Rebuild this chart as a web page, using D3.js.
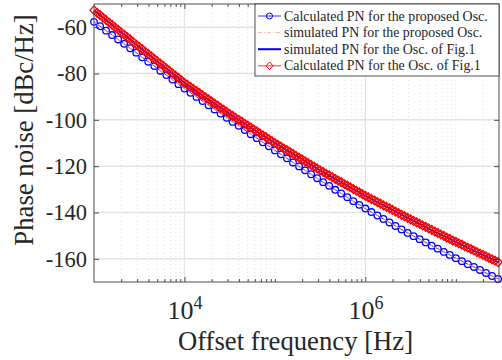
<!DOCTYPE html>
<html>
<head>
<meta charset="utf-8">
<script src="https://cdn.jsdelivr.net/npm/d3@7"></script>
<style>
  body { margin: 0; background: #fff; }
  svg { font-family: 'Liberation Serif', 'Times New Roman', serif; }
</style>
</head>
<body>
<div id="chart"></div>
<script>
// offset frequency given as log10(Hz), phase noise in dBc/Hz
const calcFig1Exp = [
  3, 3.033, 3.067, 3.1, 3.133, 3.167, 3.2, 3.233, 3.267, 3.3, 3.333, 3.367, 3.4, 3.433, 3.467,
  3.5, 3.533, 3.567, 3.6, 3.633, 3.667, 3.7, 3.733, 3.767, 3.8, 3.833, 3.867, 3.9, 3.933, 3.967,
  4, 4.033, 4.067, 4.1, 4.133, 4.167, 4.2, 4.233, 4.267, 4.3, 4.333, 4.367, 4.4, 4.433, 4.467,
  4.5, 4.533, 4.567, 4.6, 4.633, 4.667, 4.7, 4.733, 4.767, 4.8, 4.833, 4.867, 4.9, 4.933, 4.967,
  5, 5.033, 5.067, 5.1, 5.133, 5.167, 5.2, 5.233, 5.267, 5.3, 5.333, 5.367, 5.4, 5.433, 5.467,
  5.5, 5.533, 5.567, 5.6, 5.633, 5.667, 5.7, 5.733, 5.767, 5.8, 5.833, 5.867, 5.9, 5.933, 5.967,
  6, 6.033, 6.067, 6.1, 6.133, 6.167, 6.2, 6.233, 6.267, 6.3, 6.333, 6.367, 6.4, 6.433, 6.467,
  6.5, 6.533, 6.567, 6.6, 6.633, 6.667, 6.7, 6.733, 6.767, 6.8, 6.833, 6.867, 6.9, 6.933, 6.967,
  7, 7.033, 7.067, 7.1, 7.133, 7.167, 7.2, 7.233, 7.267, 7.3, 7.333, 7.367, 7.4, 7.433, 7.467
];
const calcFig1PN = [
  -52.7, -53.8, -54.8, -55.9, -56.9, -58.0, -59.0, -60.1, -61.1, -62.2, -63.2, -64.3, -65.3, -66.4, -67.5,
  -68.5, -69.5, -70.6, -71.6, -72.6, -73.7, -74.7, -75.7, -76.8, -77.8, -78.8, -79.9, -80.9, -81.9, -83.0,
  -84.0, -84.9, -85.8, -86.7, -87.6, -88.5, -89.4, -90.3, -91.2, -92.1, -93.0, -93.9, -94.8, -95.7, -96.6,
  -97.5, -98.3, -99.2, -100.0, -100.8, -101.7, -102.5, -103.3, -104.2, -105.0, -105.8, -106.7, -107.5, -108.3, -109.2,
  -110.0, -110.8, -111.6, -112.4, -113.1, -113.9, -114.7, -115.5, -116.3, -117.1, -117.9, -118.7, -119.4, -120.2, -121.0,
  -121.8, -122.5, -123.3, -124.0, -124.7, -125.5, -126.2, -126.9, -127.7, -128.4, -129.1, -129.9, -130.6, -131.3, -132.1,
  -132.8, -133.5, -134.2, -134.8, -135.5, -136.2, -136.9, -137.6, -138.2, -138.9, -139.6, -140.3, -141.0, -141.6, -142.3,
  -143.0, -143.6, -144.3, -144.9, -145.6, -146.2, -146.9, -147.5, -148.2, -148.8, -149.5, -150.1, -150.8, -151.4, -152.1,
  -152.7, -153.3, -153.9, -154.6, -155.2, -155.8, -156.4, -157.1, -157.7, -158.3, -158.9, -159.6, -160.2, -160.8, -161.4
];
const calcPropExp = [
  3, 3.067, 3.133, 3.2, 3.267, 3.333, 3.4, 3.467, 3.533, 3.6, 3.667, 3.733, 3.8, 3.867, 3.933,
  4, 4.067, 4.133, 4.2, 4.267, 4.333, 4.4, 4.467, 4.533, 4.6, 4.667, 4.733, 4.8, 4.867, 4.933,
  5, 5.067, 5.133, 5.2, 5.267, 5.333, 5.4, 5.467, 5.533, 5.6, 5.667, 5.733, 5.8, 5.867, 5.933,
  6, 6.067, 6.133, 6.2, 6.267, 6.333, 6.4, 6.467, 6.533, 6.6, 6.667, 6.733, 6.8, 6.867, 6.933,
  7, 7.067, 7.133, 7.2, 7.267, 7.333, 7.4, 7.467
];
const calcPropPN = [
  -57.7, -59.6, -61.5, -63.4, -65.3, -67.2, -69.1, -71.0, -73.0, -74.9, -76.8, -78.8, -80.7, -82.6, -84.6,
  -86.5, -88.3, -90.1, -91.9, -93.7, -95.5, -97.3, -99.1, -100.9, -102.6, -104.4, -106.2, -107.9, -109.7, -111.4,
  -113.2, -114.9, -116.6, -118.4, -120.1, -121.8, -123.5, -125.2, -126.9, -128.5, -130.2, -131.8, -133.4, -135.1, -136.7,
  -138.3, -139.8, -141.3, -142.8, -144.3, -145.8, -147.3, -148.8, -150.2, -151.5, -152.9, -154.3, -155.6, -157.0, -158.3,
  -159.7, -161.0, -162.3, -163.5, -164.8, -166.1, -167.4, -168.7
];
const simExp = [3, 3.25, 3.5, 3.75, 4, 4.25, 4.5, 4.75, 5, 5.25, 5.5, 5.75, 6, 6.25, 6.5, 6.75, 7, 7.25, 7.477];
const simPropPN = [-57.7, -64.9, -72.0, -79.3, -86.5, -93.3, -100.0, -106.6, -113.2, -119.7, -126.1, -132.2, -138.3, -143.9, -149.5, -154.6, -159.7, -164.5, -168.9];
const simFig1PN = [-52.7, -60.6, -68.5, -76.3, -84.0, -90.8, -97.5, -103.8, -110.0, -115.9, -121.8, -127.3, -132.8, -137.9, -143.0, -147.9, -152.7, -157.4, -161.6];

const yTicks = [-160, -140, -120, -100, -80, -60];
const xTicks = [1e4, 1e6];
const legendLabels = [
  'Calculated PN for the proposed Osc.',
  'simulated PN for the proposed Osc.',
  'simulated PN for the Osc. of Fig.1',
  'Calculated PN for the Osc. of Fig.1'
];

const margin = { top: 4, right: 3, bottom: 78, left: 94 },
  width = 502 - margin.left - margin.right,
  height = 360 - margin.top - margin.bottom;

const axisColor = '#262626';
const blue = '#0000ff', red = '#ff0000', pink = '#ff9a9a';

const x = d3.scaleLog().domain([1e3, 3e7]).range([0, width]);
const y = d3.scaleLinear().domain([-170, -50]).range([height, 0]);

const toPts = (ex, v) => ex.map((e, i) => ({ f: 10 ** e, pn: v[i] }));

const svg = d3
  .select('#chart')
  .append('svg')
  .attr('width', 502)
  .attr('height', 360);

const g = svg
  .append('g')
  .attr('transform', 'translate(' + margin.left + ',' + margin.top + ')');

// grid
const minorX = x.ticks().filter((d) => !xTicks.includes(d) && d > 1e3 && d < 3e7);
g.append('g')
  .selectAll('line')
  .data(minorX)
  .join('line')
  .attr('x1', (d) => x(d))
  .attr('x2', (d) => x(d))
  .attr('y1', 0)
  .attr('y2', height)
  .attr('stroke', '#d9d9d9')
  .attr('stroke-width', 0.8)
  .attr('stroke-dasharray', '1,3');

g.append('g')
  .selectAll('line')
  .data(xTicks)
  .join('line')
  .attr('x1', (d) => x(d))
  .attr('x2', (d) => x(d))
  .attr('y1', 0)
  .attr('y2', height)
  .attr('stroke', '#e3e3e3')
  .attr('stroke-width', 1.2);

g.append('g')
  .selectAll('line')
  .data(yTicks)
  .join('line')
  .attr('x1', 0)
  .attr('x2', width)
  .attr('y1', (d) => y(d))
  .attr('y2', (d) => y(d))
  .attr('stroke', '#e3e3e3')
  .attr('stroke-width', 1.5);

// series
const line = d3
  .line()
  .x((d) => x(d.f))
  .y((d) => y(d.pn));

const propPts = toPts(calcPropExp, calcPropPN);
const fig1Pts = toPts(calcFig1Exp, calcFig1PN);

g.append('path')
  .datum(propPts)
  .attr('d', line)
  .attr('fill', 'none')
  .attr('stroke', blue)
  .attr('stroke-width', 0.8);

g.append('g')
  .selectAll('circle')
  .data(propPts)
  .join('circle')
  .attr('cx', (d) => x(d.f))
  .attr('cy', (d) => y(d.pn))
  .attr('r', 3.3)
  .attr('fill', 'none')
  .attr('stroke', blue)
  .attr('stroke-width', 1.3);

g.append('path')
  .datum(toPts(simExp, simPropPN))
  .attr('d', line)
  .attr('fill', 'none')
  .attr('stroke', pink)
  .attr('stroke-width', 1)
  .attr('stroke-dasharray', '6,3,1.5,3');

g.append('path')
  .datum(toPts(simExp, simFig1PN))
  .attr('d', line)
  .attr('fill', 'none')
  .attr('stroke', blue)
  .attr('stroke-width', 2);

const diamond = 'M0,-4.4L4,0L0,4.4L-4,0Z';

g.append('path')
  .datum(fig1Pts)
  .attr('d', line)
  .attr('fill', 'none')
  .attr('stroke', red)
  .attr('stroke-width', 0.8);

g.append('g')
  .selectAll('path')
  .data(fig1Pts)
  .join('path')
  .attr('d', diamond)
  .attr('transform', (d) => 'translate(' + x(d.f) + ',' + y(d.pn) + ')')
  .attr('fill', 'none')
  .attr('stroke', red)
  .attr('stroke-width', 1.3);

// axes (ticks pointing inward, box on)
const styleAxis = (sel) => {
  sel.select('.domain').remove();
  sel.selectAll('.tick line').attr('stroke', axisColor).attr('stroke-width', 0.8);
};

g.append('g')
  .call(d3.axisLeft(y).tickValues(yTicks).tickSizeInner(-5).tickSizeOuter(0).tickPadding(7).tickFormat((d) => String(d)))
  .call(styleAxis)
  .call((a) =>
    a.selectAll('.tick text')
      .attr('fill', axisColor)
      .attr('font-size', 22.5)
      .attr('font-family', "'Liberation Serif', serif")
  );

g.append('g')
  .attr('transform', 'translate(' + width + ',0)')
  .call(d3.axisRight(y).tickValues(yTicks).tickSizeInner(-5).tickSizeOuter(0).tickFormat(''))
  .call(styleAxis);

const xBottom = g
  .append('g')
  .attr('transform', 'translate(0,' + height + ')')
  .call(d3.axisBottom(x).tickValues(xTicks).tickSizeInner(-5).tickSizeOuter(0).tickFormat(''))
  .call(styleAxis);

xBottom
  .selectAll('.tick text')
  .attr('y', 37)
  .attr('dy', null)
  .attr('fill', axisColor)
  .attr('font-size', 26)
  .attr('font-family', "'Liberation Serif', serif")
  .each(function (d) {
    const t = d3.select(this);
    t.append('tspan').text('10');
    t.append('tspan')
      .attr('dy', -10)
      .attr('font-size', 18)
      .text(Math.round(Math.log10(d)));
  });

g.append('g')
  .attr('transform', 'translate(0,' + height + ')')
  .call(d3.axisBottom(x).tickValues(minorX).tickSizeInner(-3).tickSizeOuter(0).tickFormat(''))
  .call(styleAxis);

g.append('g')
  .call(d3.axisTop(x).tickValues(xTicks).tickSizeInner(-5).tickSizeOuter(0).tickFormat(''))
  .call(styleAxis);

g.append('g')
  .call(d3.axisTop(x).tickValues(minorX).tickSizeInner(-3).tickSizeOuter(0).tickFormat(''))
  .call(styleAxis);

g.append('rect')
  .attr('width', width)
  .attr('height', height)
  .attr('fill', 'none')
  .attr('stroke', '#4d4d4d')
  .attr('stroke-width', 1);

// axis titles
svg.append('text')
  .attr('x', margin.left + width / 2 - 1)
  .attr('y', 350)
  .attr('text-anchor', 'middle')
  .attr('fill', axisColor)
  .attr('font-size', 26.7)
  .text('Offset frequency [Hz]');

svg.append('text')
  .attr('transform', 'translate(33,130) rotate(-90)')
  .attr('text-anchor', 'middle')
  .attr('fill', axisColor)
  .attr('font-size', 26.7)
  .text('Phase noise [dBc/Hz]');

// legend
const legend = svg.append('g').attr('transform', 'translate(255,4)');

legend.append('rect')
  .attr('width', 244)
  .attr('height', 72)
  .attr('fill', '#fff')
  .attr('stroke', axisColor)
  .attr('stroke-width', 0.8);

const rows = legend
  .selectAll('g.row')
  .data(legendLabels)
  .join('g')
  .attr('class', 'row')
  .attr('transform', (d, i) => 'translate(0,' + (12 + i * 16.6) + ')');

rows.append('line')
  .attr('x1', 3)
  .attr('x2', 26)
  .attr('stroke', (d, i) => [blue, pink, blue, red][i])
  .attr('stroke-width', (d, i) => (i === 2 ? 2 : 0.8))
  .attr('stroke-dasharray', (d, i) => (i === 1 ? '4,2,1,2' : null));

rows.filter((d, i) => i === 0)
  .append('circle')
  .attr('cx', 14.5)
  .attr('r', 3)
  .attr('fill', 'none')
  .attr('stroke', blue);

rows.filter((d, i) => i === 3)
  .append('path')
  .attr('d', 'M0,-3.8L3.5,0L0,3.8L-3.5,0Z')
  .attr('transform', 'translate(14.5,0)')
  .attr('fill', 'none')
  .attr('stroke', red);

rows.append('text')
  .attr('x', 29)
  .attr('y', 4.5)
  .attr('fill', axisColor)
  .attr('font-size', 13.9)
  .text((d) => d);
</script>
</body>
</html>
